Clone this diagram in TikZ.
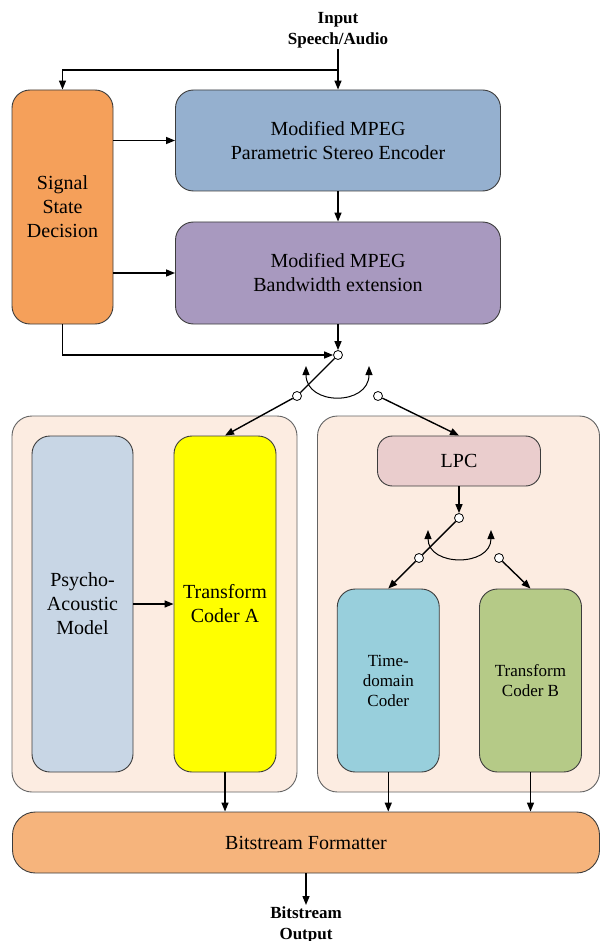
\documentclass[tikz,border=0pt]{standalone}
\usepackage{fontspec}
\setmainfont{Liberation Serif}
\usetikzlibrary{arrows.meta}
\definecolor{edgec}{RGB}{60,60,60}
\definecolor{ssdc}{RGB}{245,160,90}
\definecolor{psec}{RGB}{149,176,207}
\definecolor{bwec}{RGB}{168,153,191}
\definecolor{panc}{RGB}{252,236,225}
\definecolor{pamc}{RGB}{200,214,229}
\definecolor{tcac}{RGB}{255,255,0}
\definecolor{lpcc}{RGB}{234,205,205}
\definecolor{tdcc}{RGB}{152,207,220}
\definecolor{tcbc}{RGB}{181,202,135}
\definecolor{bsfc}{RGB}{246,180,124}
\begin{document}
\begin{tikzpicture}[x=1pt,y=-1pt,
  blk/.style={draw=edgec,line width=0.9pt,rounded corners=18pt,align=center,inner sep=0pt,font=\fontsize{20}{24}\selectfont},
  sml/.style={blk,font=\fontsize{17}{20}\selectfont},
  pan/.style={draw=edgec!80,line width=0.9pt,rounded corners=20pt,fill=panc,inner sep=0pt},
  lbl/.style={align=center,inner sep=1pt,font=\bfseries\fontsize{17}{21}\selectfont},
  sw/.style={circle,draw,fill=white,minimum size=9pt,inner sep=0pt,line width=0.8pt},
  arr/.style={-{Triangle[length=9pt,width=7pt]},line width=1.4pt},
  ln/.style={line width=1.4pt},
  turn/.style={{Triangle[length=9pt,width=7pt]}-{Triangle[length=9pt,width=7pt]},line width=1pt}]
\useasboundingbox (0,0) rectangle (600,941);
\node[lbl,anchor=south] (inp) at (338,49) {Input\\Speech/Audio};
\node[blk,fill=ssdc,minimum width=101pt,minimum height=234pt] (ssd) at (62.5,207) {Signal\\State\\Decision};
\node[blk,fill=psec,minimum width=325pt,minimum height=101pt] (pse) at (338,140.5) {Modified MPEG\\Parametric Stereo Encoder};
\node[blk,fill=bwec,minimum width=325pt,minimum height=102pt] (bwe) at (338,273) {Modified MPEG\\Bandwidth extension};
\coordinate (br) at (338,70);
\draw[arr] (inp.south) -- (pse.north);\draw[arr] (br) -| (ssd.north);
\draw[arr] (ssd.east|-pse.west) -- (pse.west);\draw[arr] (ssd.east|-bwe.west) -- (bwe.west);
\draw[arr] (pse.south) -- (bwe.north);
% switch one
\node[sw] (s0) at (338,355) {};\node[sw] (s1) at (297,396) {};\node[sw] (s2) at (378,396) {};
\draw[arr] (bwe.south) -- (s0.north);\draw[arr] (ssd.south) |- (s0.west);
\coordinate (sa) at (306,366);\coordinate (sb) at (369,366);
\draw[turn] (sa) .. controls +(0,40) and +(0,40) .. (sb);
% lower panels
\node[pan,minimum width=285pt,minimum height=376pt] (pl) at (154.5,604) {};
\node[pan,minimum width=282pt,minimum height=376pt] (pr) at (458.5,604) {};
\node[blk,fill=pamc,minimum width=101pt,minimum height=336pt] (pam) at (82.5,604) {Psycho-\\Acoustic\\Model};
\node[blk,fill=tcac,minimum width=102pt,minimum height=336pt] (tca) at (225,604) {Transform\\Coder A};
\node[blk,fill=lpcc,rounded corners=15pt,minimum width=163pt,minimum height=50pt] (lpc) at (459,461) {LPC};
\node[sml,fill=tdcc,minimum width=102pt,minimum height=183pt] (tdc) at (388.25,680.5) {Time-\\domain\\Coder};
\node[sml,fill=tcbc,minimum width=102pt,minimum height=183pt] (tcb) at (530.5,680.5) {Transform\\Coder B};
\draw[ln] (s0) -- (s1);\draw[arr] (s1) -- (tca.north);\draw[arr] (s2) -- (lpc.north);
\draw[arr] (pam.east) -- (tca.west);
% switch two
\node[sw] (t0) at (459,518) {};\node[sw] (t1) at (419,558) {};\node[sw] (t2) at (499,558) {};
\draw[arr] (lpc.south) -- (t0.north);\draw[ln] (t0) -- (t1);
\draw[arr] (t1) -- (tdc.north);\draw[arr] (t2) -- (tcb.north);
\coordinate (ta) at (428,530);\coordinate (tb) at (491,530);
\draw[turn] (ta) .. controls +(0,37) and +(0,37) .. (tb);
% formatter
\node[blk,fill=bsfc,rounded corners=23pt,minimum width=587pt,minimum height=61pt] (bsf) at (306,842.5) {Bitstream Formatter};
\node[lbl,anchor=north] (out) at (306,905) {Bitstream\\Output};
\draw[arr] (tca.south) -- (tca.south|-bsf.north);\draw[arr] (tdc.south) -- (tdc.south|-bsf.north);
\draw[arr] (tcb.south) -- (tcb.south|-bsf.north);\draw[arr] (bsf.south) -- (out.north);
\end{tikzpicture}
\end{document}
